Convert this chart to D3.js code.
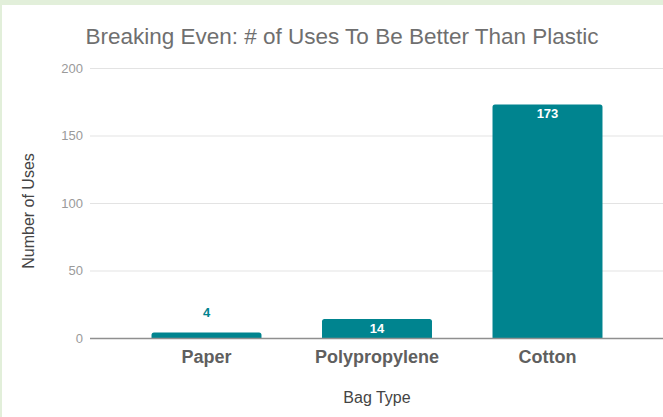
<!DOCTYPE html>
<html><head><meta charset="utf-8">
<script src="https://cdn.jsdelivr.net/npm/d3@7"></script>
<style>
html,body{margin:0;padding:0;background:#e2efda;}
svg{display:block;}
text{font-family:"Liberation Sans",Arial,Helvetica,sans-serif;}
</style></head>
<body>
<svg id="chart" width="663" height="417"></svg>
<script>
const title = "Breaking Even: # of Uses To Be Better Than Plastic";
const categories = ["Paper", "Polypropylene", "Cotton"];
const values = [4, 14, 173];
const yTicks = [0, 50, 100, 150, 200];
const xAxisTitle = "Bag Type";
const yAxisTitle = "Number of Uses";

const W = 663, H = 417;
const barColor = "#00848f";
const svg = d3.select("#chart");

svg.append("rect").attr("x", 2).attr("y", 5).attr("width", W - 2).attr("height", H - 5).attr("fill", "#ffffff");

const y = d3.scaleLinear().domain([0, 200]).range([338, 68]);
const x = d3.scaleBand().domain(categories).range([121.25, 632.75]).paddingInner(0.355).paddingOuter(0.1775);
const gridX0 = 90, gridX1 = 663;

// gridlines
svg.append("g").selectAll("line").data(yTicks.filter(d => d !== 0)).join("line")
  .attr("x1", gridX0).attr("x2", gridX1)
  .attr("y1", d => y(d) + 0.5).attr("y2", d => y(d) + 0.5)
  .attr("stroke", "#e3e3e3").attr("stroke-width", 1);

// y axis labels via d3 axis
const yAxis = svg.append("g").attr("transform", `translate(${gridX0 - 7},0)`)
  .call(d3.axisLeft(y).tickValues(yTicks).tickSize(0).tickPadding(0));
yAxis.select(".domain").remove();
yAxis.selectAll("text").attr("fill", "#9a9a9a").attr("font-size", 13)
  .attr("font-family", '"Liberation Sans",Arial,sans-serif');

// bars with rounded top corners
function barPath(d, i) {
  const x0 = x(categories[i]), w = x.bandwidth();
  const yt = y(d), yb = y(0);
  const r = Math.min(2.5, (yb - yt) / 2);
  return `M${x0},${yb} L${x0},${yt + r} Q${x0},${yt} ${x0 + r},${yt} L${x0 + w - r},${yt} Q${x0 + w},${yt} ${x0 + w},${yt + r} L${x0 + w},${yb} Z`;
}
svg.append("g").selectAll("path").data(values).join("path")
  .attr("d", barPath).attr("fill", barColor);

// zero line
svg.append("line").attr("x1", gridX0).attr("x2", gridX1)
  .attr("y1", y(0) + 0.5).attr("y2", y(0) + 0.5)
  .attr("stroke", "#8f8f8f").attr("stroke-width", 1.4);

// value labels
svg.append("g").selectAll("text").data(values).join("text")
  .attr("x", (d, i) => x(categories[i]) + x.bandwidth() / 2)
  .attr("y", d => (y(0) - y(d) > 15) ? y(d) + 9 : y(d) - 20)
  .attr("dy", "0.35em")
  .attr("text-anchor", "middle")
  .attr("font-size", 13).attr("font-weight", "bold")
  .attr("fill", d => (y(0) - y(d) > 15) ? "#ffffff" : barColor)
  .text(d => d);

// x axis category labels
const xAxis = svg.append("g").attr("transform", `translate(0,${y(0)})`)
  .call(d3.axisBottom(x).tickSize(0).tickPadding(12));
xAxis.select(".domain").remove();
xAxis.selectAll("text").attr("fill", "#5f5f5f").attr("font-size", 18).attr("font-weight", "bold")
  .attr("font-family", '"Liberation Sans",Arial,sans-serif');

// title
svg.append("text").attr("x", 342).attr("y", 44).attr("text-anchor", "middle")
  .attr("font-size", 22.5).attr("fill", "#6f6f6f").text(title);

// axis titles
svg.append("text").attr("x", 377).attr("y", 403).attr("text-anchor", "middle")
  .attr("font-size", 16).attr("fill", "#444").text(xAxisTitle);
svg.append("text").attr("transform", "translate(34,211) rotate(-90)").attr("text-anchor", "middle")
  .attr("font-size", 16).attr("fill", "#444").text(yAxisTitle);
</script>
</body></html>
